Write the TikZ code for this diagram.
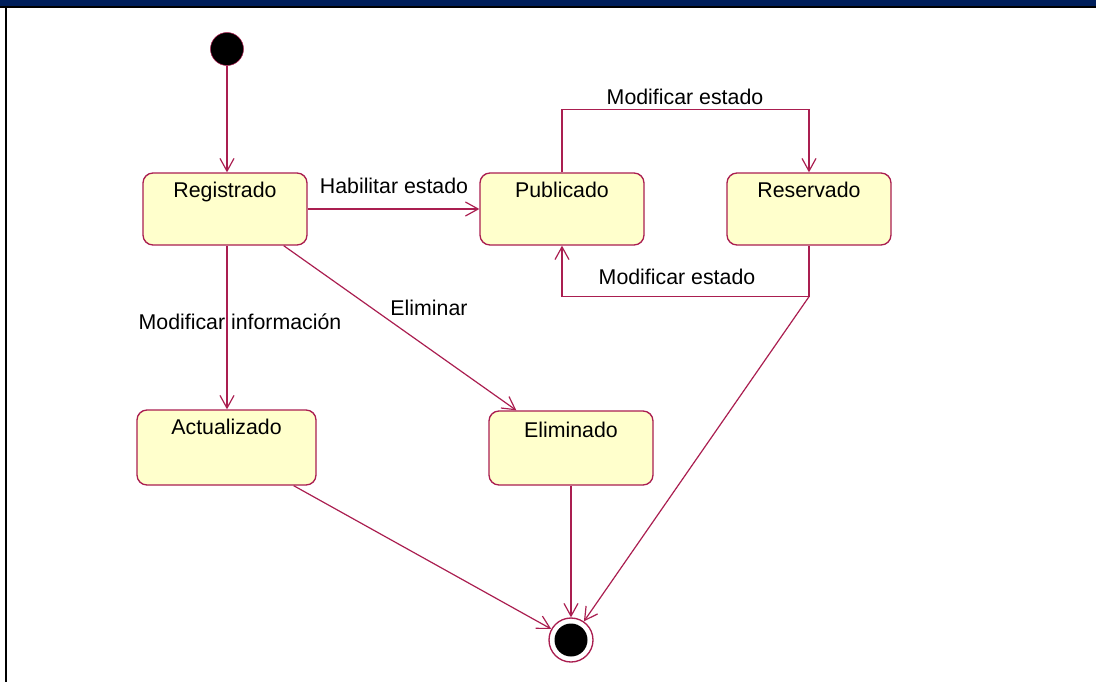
\documentclass[tikz,border=0pt]{standalone}
\usepackage{fontspec}
\setmainfont{Liberation Sans}
\usetikzlibrary{arrows.meta,calc}

\definecolor{rosa}{RGB}{170,30,80}
\definecolor{crema}{RGB}{255,255,204}
\definecolor{marino}{RGB}{0,31,91}

\tikzset{
  estado/.style={draw=rosa, fill=crema, line width=1pt, rounded corners=7.5pt,
    minimum width=123pt, minimum height=54pt, inner sep=0pt},
  nombre/.style={anchor=base, yshift=-18.75pt, inner sep=0pt},
  flecha/.style={draw=rosa, line width=0.9pt, -{Straight Barb[length=9.5pt,width=10.5pt]}},
  texto/.style={anchor=base, inner sep=0pt}
}

\begin{document}
\begin{tikzpicture}[x=0.75pt,y=0.75pt,yscale=-1,xscale=1,font=\fontsize{16}{19}\selectfont]
		\useasboundingbox (0,0) rectangle (1096,682);
		\fill [marino] (0,0) rectangle (1096,6);
		\fill [black] (0,6) rectangle (1096,8);
		\fill [black] (5,8) rectangle (7,682);

		\node [circle, draw=rosa, fill=black, minimum size=24.75pt, inner sep=0pt] (ini) at (227,49) {};
		\node [estado, label={[nombre]north:Registrado}] (reg) at (225,209) {};
		\node [estado, label={[nombre]north:Publicado}] (pub) at (562,209) {};
		\node [estado, label={[nombre]north:Reservado}] (res) at (809,209) {};
		\node [estado, minimum width=134.25pt, minimum height=56.25pt, label={[nombre]north:Actualizado}] (act) at (226.5,447.5) {};
		\node [estado, minimum height=55.5pt, label={[nombre, yshift=-1.5pt]north:Eliminado}] (eli) at (571,448) {};
		\node [circle, draw=rosa, line width=1pt, fill=white, minimum size=33pt, inner sep=0pt] (fin) at (571,640) {};
		\fill [black] (fin.center) circle (16.5);

		\coordinate (arr) at ($(pub.north)+(0,-63)$);
		\coordinate (esq) at ($(res.south)+(0,51)$);

		\draw [flecha] (ini) -- (ini |- reg.north);
		\draw [flecha] (reg) -- (pub);
		\draw [flecha] (pub.north) -- (arr) -| (res.north);
		\draw [flecha] (res.south) -- (esq) -| (pub.south);
		\draw [flecha] (ini |- reg.south) -- (ini |- act.north);
		\draw [flecha] ($(reg.south east)+(-24,0)$) -- ($(eli.north west)+(28,0)$);
		\draw [flecha] ($(act.south east)+(-23,0)$) -- (fin);
		\draw [flecha] (eli) -- (fin);
		\draw [flecha] (esq) -- (fin);

		\node [texto] (t1) at (394,193) {Habilitar estado};
		\node [texto] (t2) at (685,104) {Modificar estado};
		\node [texto] (t3) at (677,284) {Modificar estado};
		\node [texto] (t4) at (240,329) {Modificar información};
		\node [texto] (t5) at (429,315) {Eliminar};
\end{tikzpicture}
\end{document}
